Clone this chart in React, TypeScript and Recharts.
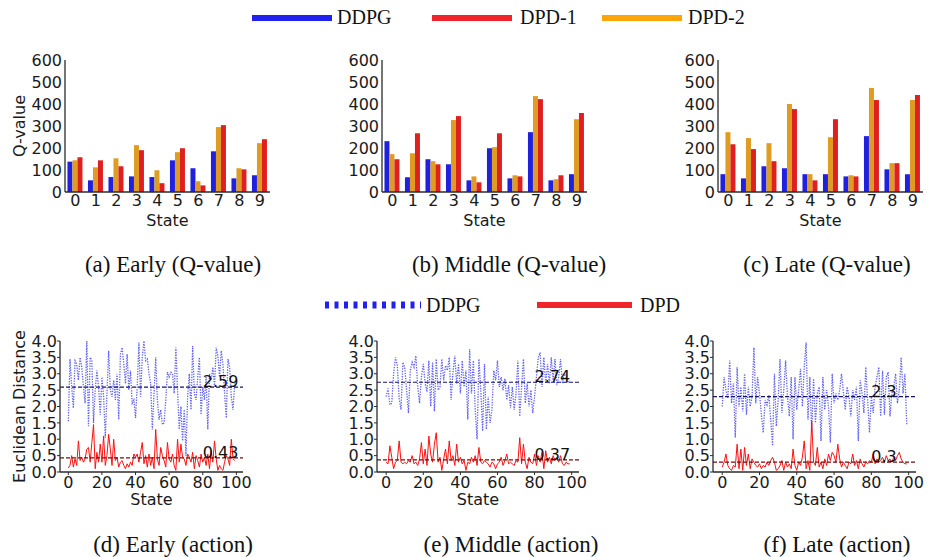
import React from "react";
import {
  BarChart,
  Bar,
  LineChart,
  Line,
  XAxis,
  YAxis,
  ReferenceLine,
  ReferenceDot,
} from "recharts";

// ---- Q-value bar data (states 0..9) ----
const states = ["0", "1", "2", "3", "4", "5", "6", "7", "8", "9"];

const earlyDDPG = [138, 53, 68, 71, 68, 144, 108, 185, 62, 76];
const earlyDPD1 = [158, 144, 117, 190, 40, 199, 30, 304, 103, 240];
const earlyDPD2 = [144, 112, 153, 213, 99, 181, 49, 295, 108, 222];

const middleDDPG = [231, 67, 149, 126, 53, 199, 62, 272, 53, 81];
const middleDPD1 = [149, 267, 126, 345, 44, 267, 71, 422, 76, 359];
const middleDPD2 = [172, 176, 140, 327, 71, 204, 76, 436, 58, 331];

const lateDDPG = [81, 62, 117, 108, 81, 81, 71, 254, 103, 81];
const lateDPD1 = [217, 195, 140, 377, 53, 331, 71, 418, 131, 441];
const lateDPD2 = [272, 245, 222, 400, 81, 249, 76, 473, 131, 418];

const qTicks = [0, 100, 200, 300, 400, 500, 600];

// ---- action distance data (states 0..99) ----
const earlyActDDPG = [
  1.55, 3.45, 2.6, 1.95, 3.4, 3.3, 2.8, 3.5, 3.2, 2.6,
  2.1, 4.0, 1.4, 3.5, 3.4, 1.5, 2.5, 3.1, 2.6, 1.75,
  2.9, 2.3, 1.05, 2.4, 3.7, 2.5, 2.3, 2.8, 2.2, 3.0,
  1.6, 3.6, 3.8, 3.3, 2.7, 3.6, 2.5, 3.1, 2.1, 2.2,
  1.65, 2.6, 3.95, 2.3, 3.5, 4.0, 3.4, 3.45, 3.0, 2.7,
  1.3, 2.4, 3.5, 2.2, 1.6, 1.9, 1.45, 1.5, 2.2, 3.05,
  2.9, 3.05, 3.0, 2.4, 3.8, 2.5, 1.3, 2.0, 0.95, 1.9,
  0.5, 2.3, 3.0, 1.9, 3.85, 2.4, 2.2, 2.9, 3.5, 1.75,
  2.6, 2.2, 2.9, 1.3, 3.0, 2.8, 3.2, 2.6, 3.8, 3.55,
  2.9, 3.7, 3.3, 2.4, 1.65, 3.45, 3.2, 2.3, 1.9, 2.7,
];
const earlyActDPD = [
  0.12, 0.2, 0.5, 0.15, 0.4, 0.2, 0.95, 0.35, 0.45, 0.3,
  0.4, 0.7, 0.75, 0.3, 0.9, 1.45, 0.1, 0.6, 0.3, 0.85,
  0.3, 1.1, 0.2, 0.5, 1.15, 0.7, 0.2, 1.0, 0.35, 0.45,
  0.15, 0.3, 0.35, 0.2, 0.1, 0.25, 0.15, 0.3, 0.2, 0.55,
  0.45, 0.55, 0.3, 0.6, 0.9, 0.25, 0.5, 0.15, 0.55, 0.2,
  0.45, 0.1, 1.3, 0.4, 0.2, 0.75, 0.5, 0.35, 0.15, 0.9,
  0.4, 0.3, 0.55, 0.2, 0.05, 1.0, 0.3, 0.85, 0.45, 0.4,
  0.2, 0.55, 0.45, 0.3, 0.6, 0.1, 0.5, 0.35, 0.15, 0.55,
  0.3, 0.45, 0.2, 0.55, 0.1, 0.65, 0.3, 0.95, 0.4, 0.05,
  0.2, 0.1, 0.05, 0.3, 0.5, 0.4, 0.2, 1.0, 0.4, 0.35,
];

const middleActDDPG = [
  2.3, 2.55, 2.05, 2.1, 3.0, 3.5, 3.25, 2.25, 1.9, 3.35,
  3.2, 2.5, 1.8, 3.1, 3.35, 3.2, 3.55, 2.6, 2.1, 2.9,
  3.3, 2.7, 2.45, 3.4, 2.0, 3.35, 1.85, 3.45, 2.5, 2.6,
  3.45, 2.8, 3.25, 3.1, 3.5, 2.2, 3.05, 3.55, 2.7, 3.3,
  2.4, 3.4, 2.6, 3.1, 1.6, 3.75, 2.4, 3.4, 1.9, 1.0,
  3.45, 2.5, 1.25, 3.3, 1.3, 2.3, 1.5, 1.9, 3.1, 2.8,
  3.4, 2.6, 2.9, 2.5, 2.85, 2.2, 2.65, 1.95, 2.6, 1.9,
  2.4, 3.4, 1.7, 2.6, 3.45, 2.1, 2.7, 2.0, 2.5, 1.8,
  2.3, 2.9, 3.5, 3.65, 2.6, 3.5, 2.7, 3.3, 2.7, 3.5,
  2.8, 3.45, 2.65, 2.9, 3.45, 2.7, 3.0, 2.9, 2.75, 2.8,
];
const middleActDPD = [
  0.3, 0.25, 0.8, 0.45, 0.1, 0.3, 0.35, 0.95, 0.3, 0.25,
  0.3, 0.25, 0.35, 0.3, 0.5, 0.25, 0.3, 0.2, 0.4, 0.9,
  0.25, 0.7, 0.2, 1.1, 0.55, 0.3, 0.85, 1.2, 0.3, 0.45,
  0.05, 0.4, 0.7, 0.25, 0.95, 0.35, 0.5, 0.2, 0.85, 0.3,
  0.45, 0.25, 0.35, 0.05, 0.3, 0.25, 0.45, 0.3, 0.5, 0.2,
  0.75, 0.3, 0.25, 0.35, 0.3, 0.25, 0.15, 0.3, 0.25, 0.1,
  0.25, 0.3, 0.45, 0.2, 0.35, 0.55, 0.25, 0.3, 0.25, 0.2,
  0.35, 0.3, 1.05, 0.25, 0.85, 0.3, 0.1, 0.45, 0.3, 0.25,
  0.55, 0.2, 0.5, 0.3, 0.6, 0.1, 0.65, 0.3, 0.45, 0.25,
  0.5, 0.35, 0.45, 0.3, 0.5, 0.25, 0.2, 0.3, 0.25, 0.25,
];

const lateActDDPG = [
  2.0, 2.9, 2.5, 2.25, 3.4, 2.1, 2.7, 1.05, 3.2, 2.0,
  2.6, 1.85, 3.0, 1.75, 2.6, 2.0, 2.3, 3.8, 2.1, 2.9,
  2.4, 1.75, 1.2, 2.2, 2.05, 2.35, 1.6, 0.8, 3.0, 1.4,
  2.2, 3.45, 1.8, 2.5, 3.4, 2.3, 1.7, 2.9, 1.0, 2.9,
  1.9, 2.5, 3.15, 2.0, 3.2, 3.95, 1.6, 2.9, 1.2, 2.85,
  1.5, 2.4, 2.6, 0.95, 2.9, 1.9, 2.5, 2.0, 0.9, 3.0,
  2.1, 2.4, 2.2, 2.5, 3.0, 2.45, 1.9, 2.6, 2.3, 1.7,
  2.5, 2.2, 2.6, 0.95, 2.8, 2.4, 1.8, 3.2, 2.2, 1.2,
  2.3, 1.8, 2.6, 2.9, 3.2, 1.7, 3.1, 1.75, 2.9, 3.05,
  1.7, 2.4, 2.6, 3.0, 2.1, 2.5, 3.5, 2.4, 3.0, 1.45,
];
const lateActDPD = [
  0.15, 0.3, 0.55, 0.2, 0.1, 0.05, 0.2, 0.15, 0.85, 0.1,
  0.7, 0.05, 0.75, 0.2, 0.55, 0.1, 0.4, 0.3, 0.2, 0.15,
  0.25, 0.1, 0.2, 0.15, 0.3, 0.2, 0.35, 0.45, 0.3, 0.05,
  0.1, 0.2, 0.35, 0.05, 0.3, 0.15, 0.25, 0.1, 0.7, 0.2,
  0.05, 0.3, 0.2, 0.45, 0.95, 0.1, 0.35, 0.05, 1.55, 0.3,
  0.2, 0.75, 0.15, 0.3, 0.1, 0.4, 0.2, 0.55, 0.35, 0.6,
  0.5, 0.3, 0.85, 0.4, 0.15, 0.3, 0.2, 0.1, 0.3, 0.25,
  0.55, 0.2, 0.35, 0.1, 0.4, 0.25, 0.15, 0.3, 0.25, 0.35,
  0.3, 0.55, 0.25, 0.4, 0.3, 0.35, 0.45, 0.3, 0.5, 0.35,
  0.4, 0.3, 0.45, 0.35, 0.5, 0.6, 0.4, 0.3, 0.25, 0.25,
];

const distTicks = [0, 0.5, 1, 1.5, 2, 2.5, 3, 3.5, 4];
const stateTicks = [0, 20, 40, 60, 80, 100];

const BLUE = "#2020df";
const RED = "#df2020";
const ORANGE = "#df9c20";
const AXIS = "#2b2b2b";
const SANS = "DejaVu Sans";
const SERIF = "Liberation Serif";

const tickStyle = { fontSize: 16, fill: "#1a1a1a", fontFamily: SANS };

function YLab({ viewBox, text }: any) {
  const cx = viewBox.x + 19.5;
  const cy = viewBox.y + viewBox.height / 2;
  return (
    <text
      x={cx}
      y={cy}
      transform={`rotate(-90 ${cx} ${cy})`}
      textAnchor="middle"
      dominantBaseline="central"
      fontSize={16}
      fontFamily={SANS}
      fill="#1a1a1a"
    >
      {text}
    </text>
  );
}

function XLab({ viewBox, dy }: any) {
  return (
    <text
      x={viewBox.x + viewBox.width / 2}
      y={viewBox.y + dy}
      textAnchor="middle"
      dominantBaseline="central"
      fontSize={16}
      fontFamily={SANS}
      fill="#1a1a1a"
    >
      State
    </text>
  );
}

function MeanLabel({ viewBox, text }: any) {
  return (
    <text
      x={viewBox.x}
      y={viewBox.y}
      fontSize={16}
      fontFamily={SANS}
      fill="#111"
    >
      {text}
    </text>
  );
}

interface QProps {
  left: number;
  yw: number;
  ddpg: number[];
  dpd1: number[];
  dpd2: number[];
  ylabel?: string;
}

function QPanel({ left, yw, ddpg, dpd1, dpd2, ylabel }: QProps) {
  const data = states.map((s, i) => ({
    state: s,
    ddpg: ddpg[i],
    dpd2: dpd2[i],
    dpd1: dpd1[i],
  }));
  const width = yw + 205 + 5;
  return (
    <div style={{ position: "absolute", left, top: 50 }}>
      <BarChart
        width={width}
        height={187}
        data={data}
        margin={{ top: 10, right: 5, left: 0, bottom: 0 }}
        barCategoryGap="12%"
        barGap={0}
      >
        <XAxis
          dataKey="state"
          interval={0}
          tickLine={false}
          tickSize={0}
          tickMargin={3}
          height={45}
          tick={tickStyle}
          axisLine={{ stroke: AXIS, strokeWidth: 1.3 }}
          label={<XLab dy={28} />}
        />
        <XAxis
          xAxisId="top"
          orientation="top"
          dataKey="state"
          tick={false}
          tickLine={false}
          height={0}
          axisLine={{ stroke: "#555", strokeWidth: 1.3 }}
        />
        <YAxis
          domain={[0, 600]}
          ticks={qTicks}
          interval={0}
          tickLine={false}
          tickSize={0}
          tickMargin={3}
          width={yw}
          tick={tickStyle}
          axisLine={{ stroke: AXIS, strokeWidth: 1.3 }}
          label={ylabel ? <YLab text={ylabel} /> : undefined}
        />
        <YAxis
          yAxisId="right"
          orientation="right"
          tick={false}
          tickLine={false}
          width={0}
          axisLine={{ stroke: AXIS, strokeWidth: 1.3 }}
        />
        <Bar dataKey="ddpg" fill={BLUE} isAnimationActive={false} />
        <Bar dataKey="dpd2" fill={ORANGE} isAnimationActive={false} />
        <Bar dataKey="dpd1" fill={RED} isAnimationActive={false} />
      </BarChart>
    </div>
  );
}

interface ActProps {
  left: number;
  yw: number;
  plotW: number;
  ddpg: number[];
  dpd: number[];
  meanDDPG: number;
  meanDPD: number;
  ylabel?: string;
}

function ActPanel({ left, yw, plotW, ddpg, dpd, meanDDPG, meanDPD, ylabel }: ActProps) {
  const data = ddpg.map((v, i) => ({ x: i, ddpg: v, dpd: dpd[i] }));
  return (
    <div style={{ position: "absolute", left, top: 331 }}>
      <LineChart
        width={yw + plotW + 14}
        height={181}
        data={data}
        margin={{ top: 10, right: 14, left: 0, bottom: 0 }}
      >
        <XAxis
          dataKey="x"
          type="number"
          domain={[-4.95, 103.95]}
          ticks={stateTicks}
          interval={0}
          allowDataOverflow
          tickSize={3}
          tickMargin={2}
          tickLine={{ stroke: AXIS }}
          height={40}
          tick={tickStyle}
          axisLine={{ stroke: AXIS, strokeWidth: 1.3 }}
          label={<XLab dy={27} />}
        />
        <XAxis
          xAxisId="top"
          orientation="top"
          dataKey="x"
          type="number"
          domain={[-4.95, 103.95]}
          tick={false}
          tickLine={false}
          height={0}
          axisLine={{ stroke: "#555", strokeWidth: 1.3 }}
        />
        <YAxis
          domain={[0, 4]}
          ticks={distTicks}
          interval={0}
          tickSize={3}
          tickMargin={0}
          tickLine={{ stroke: AXIS }}
          tickFormatter={(v: number) => v.toFixed(1)}
          width={yw}
          tick={tickStyle}
          axisLine={{ stroke: AXIS, strokeWidth: 1.3 }}
          label={ylabel ? <YLab text={ylabel} /> : undefined}
        />
        <YAxis
          yAxisId="right"
          orientation="right"
          tick={false}
          tickLine={false}
          width={0}
          axisLine={{ stroke: AXIS, strokeWidth: 1.3 }}
        />
        <Line
          dataKey="ddpg"
          type="linear"
          stroke="#2a2aff"
          strokeOpacity={0.75}
          strokeWidth={1.3}
          strokeDasharray="1.3 1.3"
          dot={false}
          isAnimationActive={false}
        />
        <Line
          dataKey="dpd"
          type="linear"
          stroke="#ff1010"
          strokeWidth={1}
          dot={false}
          isAnimationActive={false}
        />
        <ReferenceLine
          y={meanDDPG}
          stroke="#14146a"
          strokeWidth={1.2}
          strokeDasharray="4 2"
        />
        <ReferenceLine
          y={meanDPD}
          stroke="#7a0a0a"
          strokeWidth={1.2}
          strokeDasharray="4 2"
        />
        <ReferenceDot
          x={80}
          y={meanDDPG}
          r={0}
          fill="none"
          stroke="none"
          label={<MeanLabel text={String(meanDDPG)} />}
        />
        <ReferenceDot
          x={80}
          y={meanDPD}
          r={0}
          fill="none"
          stroke="none"
          label={<MeanLabel text={String(meanDPD)} />}
        />
      </LineChart>
    </div>
  );
}

function Caption({ cx, top, text }: { cx: number; top: number; text: string }) {
  return (
    <div
      style={{
        position: "absolute",
        left: cx,
        top,
        transform: "translateX(-50%)",
        whiteSpace: "nowrap",
        fontFamily: SERIF,
        fontSize: 23,
        lineHeight: "26px",
        color: "#111",
      }}
    >
      {text}
    </div>
  );
}

function LegendText({ left, top, text }: { left: number; top: number; text: string }) {
  return (
    <div
      style={{
        position: "absolute",
        left,
        top,
        fontFamily: SERIF,
        fontSize: 20,
        lineHeight: "24px",
        color: "#111",
        whiteSpace: "nowrap",
      }}
    >
      {text}
    </div>
  );
}

function Swatch({ left, top, width, color }: { left: number; top: number; width: number; color: string }) {
  return (
    <div
      style={{ position: "absolute", left, top, width, height: 6, background: color }}
    />
  );
}

export default function App() {
  return (
    <div
      style={{
        position: "absolute",
        left: 0,
        top: 0,
        width: 933,
        height: 557,
        background: "#fff",
        overflow: "hidden",
      }}
    >
      {/* top legend */}
      <Swatch left={252} top={15} width={80} color="#2020f0" />
      <LegendText left={337} top={5} text="DDPG" />
      <Swatch left={432} top={15} width={80} color="#f0252b" />
      <LegendText left={520} top={5} text="DPD-1" />
      <Swatch left={602} top={15} width={80} color="#ffa50a" />
      <LegendText left={688} top={5} text="DPD-2" />

      <QPanel left={0} yw={65} ddpg={earlyDDPG} dpd1={earlyDPD1} dpd2={earlyDPD2} ylabel="Q-value" />
      <QPanel left={320} yw={62} ddpg={middleDDPG} dpd1={middleDPD1} dpd2={middleDPD2} />
      <QPanel left={650} yw={68} ddpg={lateDDPG} dpd1={lateDPD1} dpd2={lateDPD2} />

      <Caption cx={173} top={252} text="(a) Early (Q-value)" />
      <Caption cx={509} top={252} text="(b) Middle (Q-value)" />
      <Caption cx={827} top={252} text="(c) Late (Q-value)" />

      {/* bottom legend */}
      <svg
        style={{ position: "absolute", left: 325, top: 301 }}
        width={96}
        height={8}
      >
        <line x1={0} y1={4} x2={96} y2={4} stroke="#2020f0" strokeWidth={7} strokeDasharray="4 5.5" />
      </svg>
      <LegendText left={426} top={293} text="DDPG" />
      <Swatch left={537} top={302} width={95} color="#f0252b" />
      <LegendText left={640} top={293} text="DPD" />

      <ActPanel
        left={0}
        yw={60}
        plotW={183}
        ddpg={earlyActDDPG}
        dpd={earlyActDPD}
        meanDDPG={2.59}
        meanDPD={0.43}
        ylabel="Euclidean Distance"
      />
      <ActPanel
        left={330}
        yw={47}
        plotW={202}
        ddpg={middleActDDPG}
        dpd={middleActDPD}
        meanDDPG={2.74}
        meanDPD={0.37}
      />
      <ActPanel
        left={660}
        yw={53}
        plotW={203}
        ddpg={lateActDDPG}
        dpd={lateActDPD}
        meanDDPG={2.3}
        meanDPD={0.3}
      />

      <Caption cx={173} top={532} text="(d) Early (action)" />
      <Caption cx={511} top={532} text="(e) Middle (action)" />
      <Caption cx={837} top={532} text="(f) Late (action)" />
    </div>
  );
}
